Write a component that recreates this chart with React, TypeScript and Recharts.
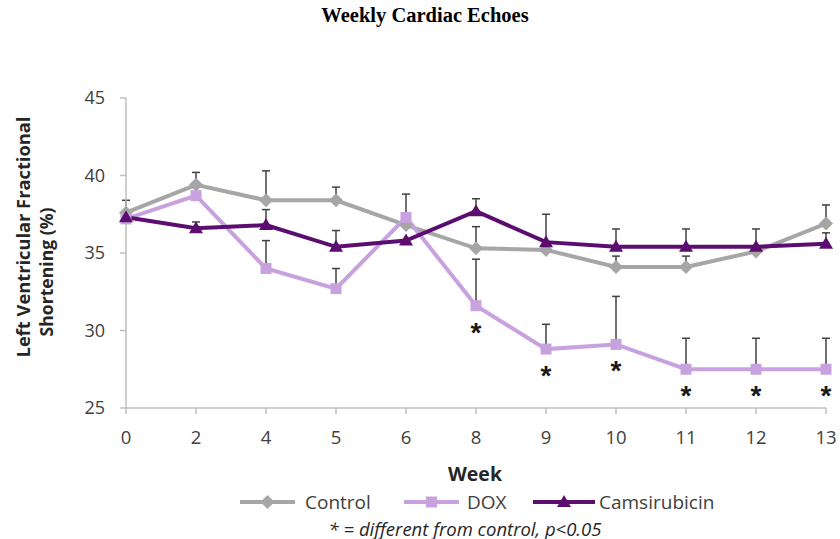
import React from 'react';
import { LineChart, Line, XAxis, YAxis, ErrorBar } from 'recharts';

const weeks = ['0', '2', '4', '5', '6', '8', '9', '10', '11', '12', '13'];
const control = [37.6, 39.4, 38.4, 38.4, 36.8, 35.3, 35.2, 34.1, 34.1, 35.1, 36.9];
const dox = [37.2, 38.7, 34.0, 32.7, 37.3, 31.6, 28.8, 29.1, 27.5, 27.5, 27.5];
const cams = [37.3, 36.6, 36.8, 35.4, 35.8, 37.7, 35.7, 35.4, 35.4, 35.4, 35.6];
const controlSE = [0.8, 0.8, 1.9, 0.85, 0, 1.4, 0.3, 0.7, 0.7, 0, 1.2];
const doxSE = [0, 0, 1.8, 1.3, 1.5, 3.0, 1.6, 3.1, 2.0, 2.0, 2.0];
const camsSE = [0, 0.4, 1.0, 1.05, 0, 0.8, 1.8, 1.15, 1.15, 1.15, 0.7];
const doxSignificant = [false, false, false, false, false, true, true, true, true, true, true];
const yTicks = [25, 30, 35, 40, 45];

const GRAY = '#A6A6A6';
const LAV = '#C8A2DF';
const PURPLE = '#5C0E70';
const ERR = '#404040';
const FONT = '"Open Sans", "DejaVu Sans", sans-serif';

const data = weeks.map((w, i) => ({
  week: w,
  control: control[i],
  dox: dox[i],
  cams: cams[i],
  controlErr: [0, controlSE[i]],
  doxErr: [0, doxSE[i]],
  camsErr: [0, camsSE[i]],
}));

const Diamond = ({ cx, cy, index }: any) => {
  if (cx == null || cy == null) return <g key={`dm-${index}`} />;
  const s = 7;
  return (
    <polygon
      key={`dm-${index}`}
      points={`${cx},${cy - s} ${cx + s},${cy} ${cx},${cy + s} ${cx - s},${cy}`}
      fill={GRAY}
    />
  );
};

const Square = ({ cx, cy, index }: any) => {
  if (cx == null || cy == null) return <g key={`sq-${index}`} />;
  const s = 5.5;
  return <rect key={`sq-${index}`} x={cx - s} y={cy - s} width={s * 2} height={s * 2} fill={LAV} />;
};

const Triangle = ({ cx, cy, index }: any) => {
  if (cx == null || cy == null) return <g key={`tr-${index}`} />;
  return (
    <polygon
      key={`tr-${index}`}
      points={`${cx},${cy - 7} ${cx + 7},${cy + 5} ${cx - 7},${cy + 5}`}
      fill={PURPLE}
    />
  );
};

const Star = ({ x, y, index }: any) => {
  if (!doxSignificant[index] || x == null || y == null) return <g key={`st-${index}`} />;
  return (
    <text
      key={`st-${index}`}
      x={x}
      y={y + 36}
      textAnchor="middle"
      fontFamily='"Liberation Sans", Arial, sans-serif'
      fontWeight="bold"
      fontSize={28}
      fill="#1a1a1a"
    >
      *
    </text>
  );
};

export default function App() {
  const legendItems = [
    { name: 'Control', color: GRAY, x1: 240, x2: 295, tx: 305, marker: 'diamond' },
    { name: 'DOX', color: LAV, x1: 404, x2: 459, tx: 467, marker: 'square' },
    { name: 'Camsirubicin', color: PURPLE, x1: 533, x2: 595, tx: 599, marker: 'triangle' },
  ];
  const ly = 502;
  return (
    <div style={{ position: 'absolute', left: 0, top: 0, width: 840, height: 539, background: '#fff' }}>
      <LineChart
        width={840}
        height={539}
        data={data}
        margin={{ top: 98, right: 14, bottom: 91, left: 66 }}
      >
        <XAxis
          dataKey="week"
          height={40}
          stroke="#BFBFBF"
          strokeWidth={1.5}
          tickSize={6}
          tickMargin={17}
          tick={{ fill: '#404040', fontSize: 18.5, fontFamily: FONT }}
          interval={0}
        />
        <YAxis
          width={60}
          domain={[25, 45]}
          ticks={yTicks}
          stroke="#BFBFBF"
          strokeWidth={1.5}
          tickSize={6}
          tickMargin={15}
          tick={{ fill: '#404040', fontSize: 18, fontFamily: FONT }}
          allowDataOverflow
        />
        <Line
          dataKey="control"
          stroke={GRAY}
          strokeWidth={4}
          dot={(p: any) => <Diamond cx={p.cx} cy={p.cy} index={p.index} key={`dm-${p.index}`} />}
          activeDot={false}
          isAnimationActive={false}
        >
          <ErrorBar dataKey="controlErr" direction="y" width={4} stroke={ERR} strokeWidth={1.5} />
        </Line>
        <Line
          dataKey="dox"
          stroke={LAV}
          strokeWidth={4}
          dot={(p: any) => <Square cx={p.cx} cy={p.cy} index={p.index} key={`sq-${p.index}`} />}
          activeDot={false}
          isAnimationActive={false}
          label={(p: any) => <Star x={p.x} y={p.y} index={p.index} key={`st-${p.index}`} />}
        >
          <ErrorBar dataKey="doxErr" direction="y" width={4} stroke={ERR} strokeWidth={1.5} />
        </Line>
        <Line
          dataKey="cams"
          stroke={PURPLE}
          strokeWidth={4}
          dot={(p: any) => <Triangle cx={p.cx} cy={p.cy} index={p.index} key={`tr-${p.index}`} />}
          activeDot={false}
          isAnimationActive={false}
        >
          <ErrorBar dataKey="camsErr" direction="y" width={4} stroke={ERR} strokeWidth={1.5} />
        </Line>
      </LineChart>
      <svg
        width={840}
        height={539}
        style={{ position: 'absolute', left: 0, top: 0, pointerEvents: 'none' }}
      >
        <text
          x={425}
          y={22}
          textAnchor="middle"
          fontFamily='"Liberation Serif", "Times New Roman", serif'
          fontWeight="bold"
          fontSize={20.5}
          fill="#000"
        >
          Weekly Cardiac Echoes
        </text>
        <text
          transform="translate(22,237) rotate(-90)"
          textAnchor="middle"
          dominantBaseline="central"
          fontFamily={FONT}
          fontWeight="bold"
          fontSize={18.3}
          fill="#262626"
        >
          Left Ventricular Fractional
        </text>
        <text
          transform="translate(46,272) rotate(-90)"
          textAnchor="middle"
          dominantBaseline="central"
          fontFamily={FONT}
          fontWeight="bold"
          fontSize={17.6}
          fill="#262626"
        >
          Shortening (%)
        </text>
        <text
          x={475}
          y={473}
          textAnchor="middle"
          dominantBaseline="central"
          fontFamily={FONT}
          fontWeight="bold"
          fontSize={19.5}
          fill="#262626"
        >
          Week
        </text>
        {legendItems.map((it) => {
          const mx = (it.x1 + it.x2) / 2;
          return (
            <g key={it.name}>
              <line x1={it.x1} y1={ly} x2={it.x2} y2={ly} stroke={it.color} strokeWidth={4} />
              {it.marker === 'diamond' && <Diamond cx={mx} cy={ly} index={0} />}
              {it.marker === 'square' && <Square cx={mx} cy={ly} index={0} />}
              {it.marker === 'triangle' && <Triangle cx={mx} cy={ly} index={0} />}
              <text
                x={it.tx}
                y={ly}
                dominantBaseline="central"
                fontFamily={FONT}
                fontSize={19}
                fill="#404040"
              >
                {it.name}
              </text>
            </g>
          );
        })}
        <text
          x={465}
          y={528}
          textAnchor="middle"
          dominantBaseline="central"
          fontFamily={FONT}
          fontStyle="italic"
          fontSize={18.5}
          fill="#262626"
        >
          * = different from control, p&lt;0.05
        </text>
      </svg>
    </div>
  );
}
